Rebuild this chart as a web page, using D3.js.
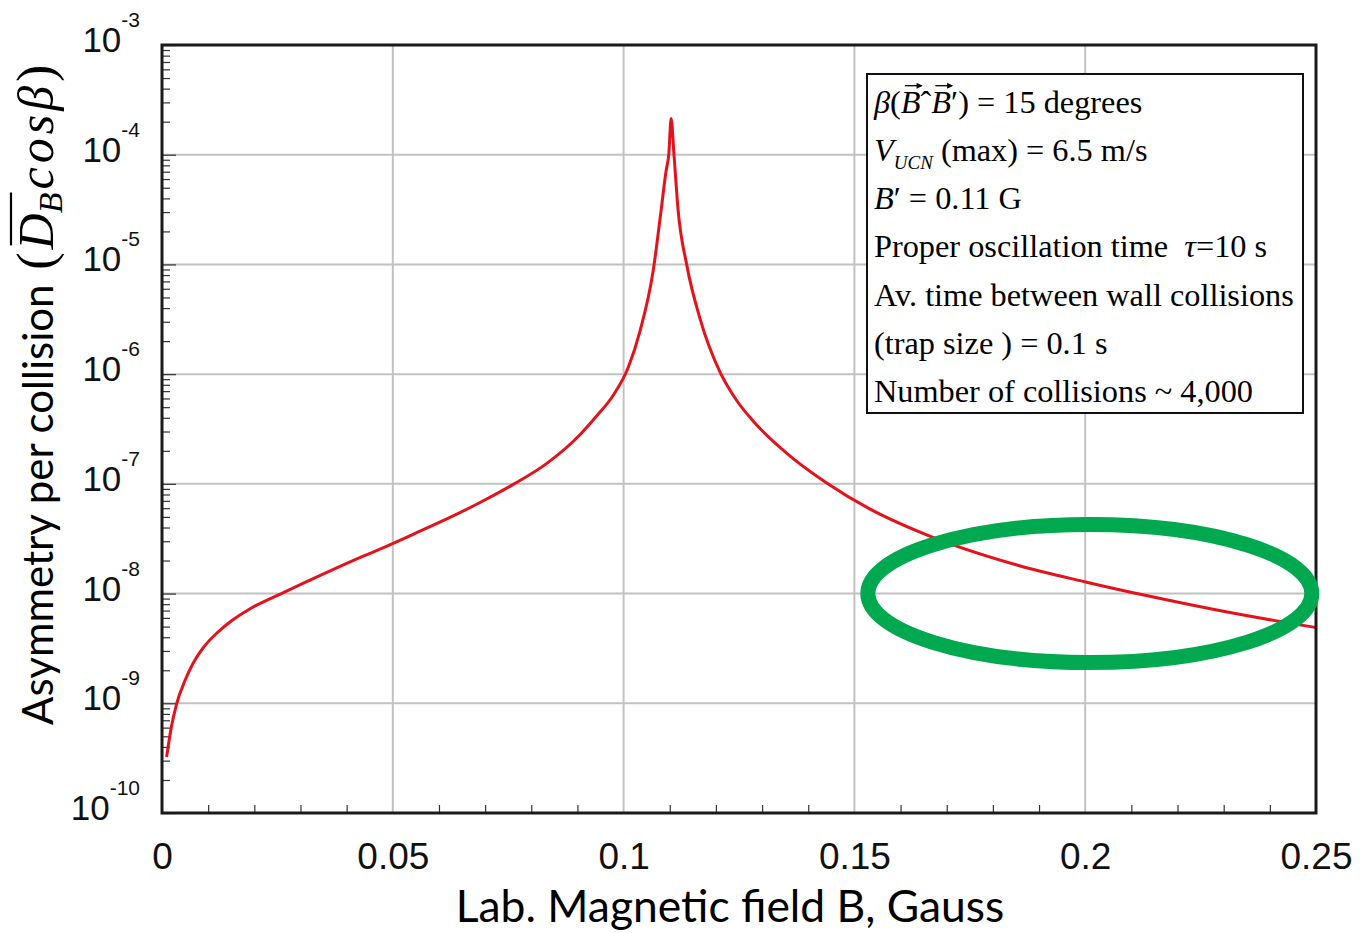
<!DOCTYPE html>
<html><head><meta charset="utf-8">
<script src="https://cdn.jsdelivr.net/npm/d3@7"></script>
<style>body{margin:0;background:#fff;} svg{display:block}</style>
</head><body>
<svg id="chart" width="1360" height="933"></svg>
<script>
// ---- data ----
const fieldB = [0.0010,0.0020,0.0032,0.0050,0.0068,0.0090,0.0119,0.0150,0.0190,0.0263,0.0350,0.0436,0.0472,0.0544,0.0617,0.0689,0.0761,0.0833,0.0906,0.0942,0.0978,0.1010,0.1036,0.1064,0.1080,0.1092,0.1098,0.1103,0.1109,0.1118,0.1137,0.1166,0.1210,0.1245,0.1281,0.1353,0.1440,0.1534,0.1642,0.1852,0.2003,0.2140,0.2285,0.2429,0.2500];
const asymmetry = [3.24e-10,6.0e-10,1.0e-9,1.62e-9,2.34e-9,3.24e-9,4.37e-9,5.62e-9,7.24e-9,1.02e-8,1.51e-8,2.19e-8,2.54e-8,3.47e-8,4.79e-8,6.76e-8,9.89e-8,1.53e-7,2.82e-7,4.17e-7,6.46e-7,1.15e-6,2.51e-6,8.7e-6,2.82e-5,7.1e-5,1.02e-4,2.14e-4,1.02e-4,3.16e-5,9.8e-6,3.16e-6,1.02e-6,5.75e-7,3.72e-7,1.91e-7,1.02e-7,5.89e-8,3.63e-8,1.82e-8,1.27e-8,9.44e-9,7.08e-9,5.5e-9,4.9e-9];
const xMajorTicks = [0,0.05,0.1,0.15,0.2,0.25];
const xTickLabels = ["0","0.05","0.1","0.15","0.2","0.25"];
const yMajorTicks = [1e-10,1e-9,1e-8,1e-7,1e-6,1e-5,1e-4,1e-3];
const yTickExponents = ["-10","-9","-8","-7","-6","-5","-4","-3"];
const xTitle = "Lab. Magnetic field B, Gauss";
const yTitlePlain = "Asymmetry per collision ";
const highlightCenter = [0.201, 1.0e-8];

// ---- chart ----
const W = 1360, H = 933;
const svg = d3.select("#chart");
svg.append("rect").attr("width", W).attr("height", H).attr("fill", "#fff");

const x = d3.scaleLinear().domain([0, 0.25]).range([162, 1316]);
const y = d3.scaleLog().domain([1e-10, 1e-3]).range([813, 45]);
const [x0, x1] = x.range();
const [y0, y1] = y.range();

// grid
const grid = svg.append("g");
grid.selectAll("line.gx").data(xMajorTicks.slice(1, -1)).join("line")
  .attr("x1", d => x(d)).attr("x2", d => x(d)).attr("y1", y1).attr("y2", y0)
  .attr("stroke", "#c2c2c2").attr("stroke-width", 2);
grid.selectAll("line.gy").data(yMajorTicks.slice(1, -1)).join("line")
  .attr("y1", d => y(d)).attr("y2", d => y(d)).attr("x1", x0).attr("x2", x1)
  .attr("stroke", "#c2c2c2").attr("stroke-width", 2);

// minor ticks (inward)
const minorX = x.ticks(25).filter(v => !xMajorTicks.some(m => Math.abs(m - v) < 1e-9));
svg.append("g").attr("transform", `translate(0,${y0})`)
  .call(d3.axisBottom(x).tickValues(minorX).tickSizeInner(-8).tickSizeOuter(0).tickFormat(""))
  .call(g => g.select(".domain").remove())
  .call(g => g.selectAll("line").attr("stroke", "#333").attr("stroke-width", 1.2));
const minorY = y.ticks().filter(v => !yMajorTicks.some(m => Math.abs(m - v) / m < 1e-6));
svg.append("g").attr("transform", `translate(${x0},0)`)
  .call(d3.axisLeft(y).tickValues(minorY).tickSizeInner(-8).tickSizeOuter(0).tickFormat(""))
  .call(g => g.select(".domain").remove())
  .call(g => g.selectAll("line").attr("stroke", "#333").attr("stroke-width", 1.2));
svg.append("g").attr("transform", `translate(${x0},0)`)
  .call(d3.axisLeft(y).tickValues(yMajorTicks).tickSizeInner(-14).tickSizeOuter(0).tickFormat(""))
  .call(g => g.select(".domain").remove())
  .call(g => g.selectAll("line").attr("stroke", "#333").attr("stroke-width", 1.2));

// x tick labels
svg.append("g").attr("transform", `translate(0,${y0})`)
  .call(d3.axisBottom(x).tickValues(xMajorTicks).tickSize(0).tickFormat((d, i) => xTickLabels[i]))
  .call(g => g.select(".domain").remove())
  .call(g => g.selectAll("text").attr("dy", 0).attr("y", 56)
    .attr("font-family", "Liberation Sans, Arial, sans-serif").attr("font-size", 37).attr("fill", "#111"));

// y tick labels 10^n
const yl = svg.append("g").selectAll("text").data(yMajorTicks).join("text")
  .attr("x", 140).attr("y", d => y(d) + 7).attr("text-anchor", "end")
  .attr("font-family", "Liberation Sans, Arial, sans-serif").attr("fill", "#111");
yl.append("tspan").attr("font-size", 35).text("10");
yl.append("tspan").attr("font-size", 21).attr("dy", -25).text((d, i) => yTickExponents[i]);

// curve
const pts = fieldB.map((b, i) => [b, asymmetry[i]]);
svg.append("path").datum(pts)
  .attr("d", d3.line().x(d => x(d[0])).y(d => y(d[1])).curve(d3.curveMonotoneX))
  .attr("fill", "none").attr("stroke", "#e3121c").attr("stroke-width", 3).attr("stroke-linejoin", "round");

// frame
svg.append("rect").attr("x", x0).attr("y", y1).attr("width", x1 - x0).attr("height", y0 - y1)
  .attr("fill", "none").attr("stroke", "#1a1a1a").attr("stroke-width", 3);

// legend box
const lg = svg.append("g");
lg.append("rect").attr("x", 867).attr("y", 74).attr("width", 436).attr("height", 339)
  .attr("fill", "#fff").attr("stroke", "#111").attr("stroke-width", 2);
const serif = "Liberation Serif, Times New Roman, serif";
const lines = [
  [["β", true], ["(", false], ["B", true], ["ˆ", false], ["B", true], ["′", false], [") = 15 degrees", false]],
  [["V", true], ["UCN", true, "sub"], [" (max) = 6.5 m/s", false]],
  [["B", true], ["′ = 0.11 G", false]],
  [["Proper oscillation time\u00a0\u00a0", false], ["τ", true], ["=10 s", false]],
  [["Av. time between wall collisions", false]],
  [["(trap size ) = 0.1 s", false]],
  [["Number of collisions ~ 4,000", false]]
];
const lineTexts = [];
lines.forEach((segs, li) => {
  const t = lg.append("text").attr("x", 874).attr("y", 112.7 + li * 48.2)
    .attr("font-family", serif).attr("font-size", 32.3).attr("fill", "#000");
  let subbed = false;
  segs.forEach(s => {
    const sp = t.append("tspan").text(s[0]).attr("font-style", s[1] ? "italic" : "normal");
    if (s[2] === "sub") { sp.attr("font-size", 19).attr("dy", 8); subbed = true; }
    else if (subbed) { sp.attr("dy", -8); subbed = false; }
  });
  lineTexts.push(t);
});
// vector arrows over the B's in line 1
const t0 = lineTexts[0].node();
[2, 4].forEach(ci => {
  const e = t0.getExtentOfChar(ci);
  const ay = 112.7 - 27, ax0 = e.x + 4, ax1 = e.x + e.width + 1;
  lg.append("line").attr("x1", ax0).attr("x2", ax1).attr("y1", ay).attr("y2", ay)
    .attr("stroke", "#000").attr("stroke-width", 1.3);
  lg.append("path").attr("d", `M${ax1 - 5},${ay - 3} L${ax1 + 1},${ay} L${ax1 - 5},${ay + 3} Z`).attr("fill", "#000");
});

// highlight ellipse
svg.append("ellipse").attr("cx", x(highlightCenter[0])).attr("cy", y(highlightCenter[1]))
  .attr("rx", 222).attr("ry", 69).attr("fill", "none").attr("stroke", "#00a84f").attr("stroke-width", 15);

// x title
svg.append("text").attr("x", 730).attr("y", 922).attr("text-anchor", "middle")
  .attr("font-family", "Lato, Open Sans, sans-serif").attr("font-size", 44.4).attr("fill", "#000").text(xTitle);

// y title
const tg = svg.append("g").attr("transform", "translate(53,0) rotate(-90)");
const yt = tg.append("text").attr("x", -725).attr("y", 0)
  .attr("font-family", "Lato, Open Sans, sans-serif").attr("font-size", 42).attr("fill", "#000");
yt.append("tspan").text(yTitlePlain);
yt.append("tspan").attr("font-family", serif).attr("font-size", 52).attr("dx", 4).text("(");
yt.append("tspan").attr("font-family", serif).attr("font-style", "italic").attr("font-size", 50).attr("dx", 3).text("D");
yt.append("tspan").attr("font-family", serif).attr("font-style", "italic").attr("font-size", 34).attr("dy", 9).text("B");
yt.append("tspan").attr("font-family", serif).attr("font-style", "italic").attr("font-size", 50).attr("dy", -9)
  .attr("letter-spacing", 4).attr("dx", 3).text("cosβ");
yt.append("tspan").attr("font-family", serif).attr("font-size", 52).text(")");
const n = yTitlePlain.length + 1;
const eD = yt.node().getExtentOfChar(n), eB = yt.node().getExtentOfChar(n + 1);
tg.append("line").attr("x1", eD.x + 4).attr("x2", eB.x + eB.width).attr("y1", -42).attr("y2", -42)
  .attr("stroke", "#000").attr("stroke-width", 2.2);
</script>
</body></html>
